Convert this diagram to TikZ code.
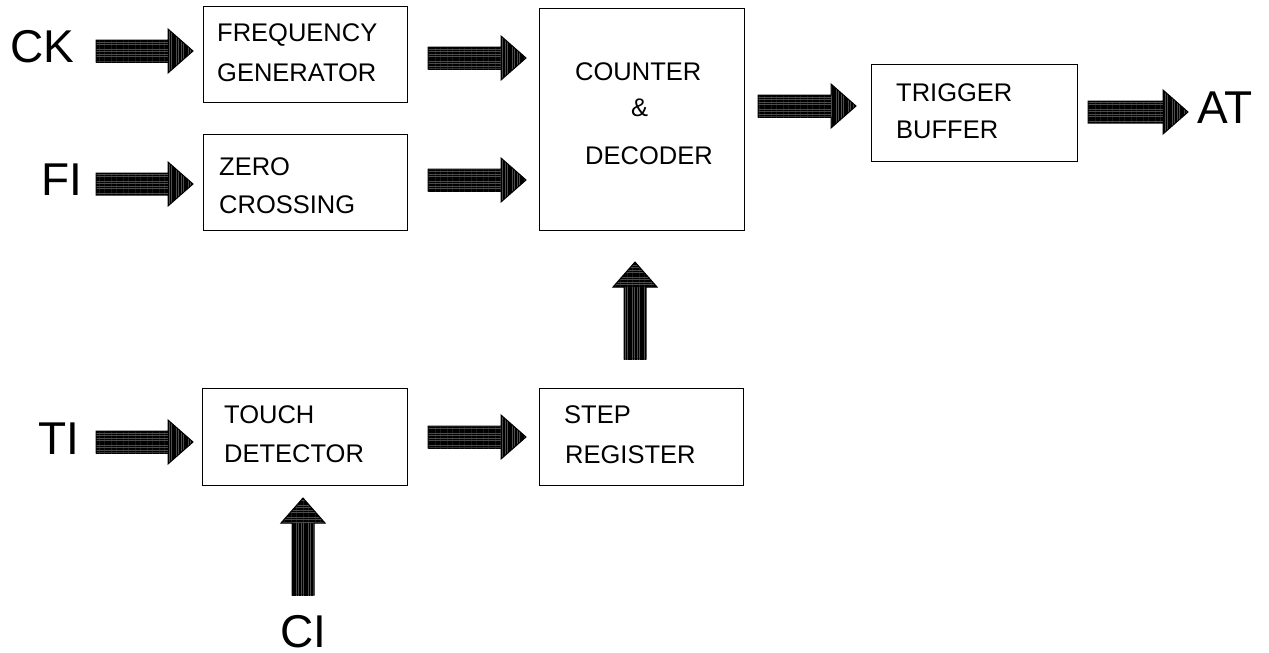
\documentclass[tikz,border=0pt]{standalone}
\usepackage{fontspec}
\setmainfont{Liberation Sans}
\usetikzlibrary{calc,patterns.meta}
\tikzset{
  blk/.style={draw=black,line width=1.4pt,inner sep=0pt,anchor=north west},
  txt/.style={anchor=base west,inner sep=0pt,font=\fontsize{25.5}{30}\selectfont},
  lbl/.style={anchor=base west,inner sep=0pt,text depth=0pt,font=\fontsize{46}{50}\selectfont},
  hshaft/.style={preaction={fill=black!70},pattern={Lines[angle=0,distance=2.4pt,line width=1.6pt]},pattern color=black},
  vshaft/.style={preaction={fill=black!70},pattern={Lines[angle=90,distance=2.4pt,line width=1.6pt]},pattern color=black},
  aout/.style={draw=black,line width=1pt,line join=miter},
}
% horizontal block arrow from #1 to tip #2 (y taken from #1)
\newcommand\harrow[2]{%
  \path[hshaft] let \p1=(#1), \p2=(#2) in
    (\x1,\y1-11pt) rectangle (\x2-25pt,\y1+11pt);
  \path[vshaft] let \p1=(#1), \p2=(#2) in
    (\x2-25pt,\y1-22pt) -- (\x2,\y1) -- (\x2-25pt,\y1+22pt) -- cycle;
  \path[aout] let \p1=(#1), \p2=(#2) in
    (\x1,\y1-11pt) -- (\x2-25pt,\y1-11pt) -- (\x2-25pt,\y1-22pt) -- (\x2,\y1)
    -- (\x2-25pt,\y1+22pt) -- (\x2-25pt,\y1+11pt) -- (\x1,\y1+11pt) -- cycle;
}
% vertical (upward) block arrow from #1 to tip #2 (x taken from #1)
\newcommand\varrow[2]{%
  \path[vshaft] let \p1=(#1), \p2=(#2) in
    (\x1-11pt,\y1) rectangle (\x1+11pt,\y2-25pt);
  \path[hshaft] let \p1=(#1), \p2=(#2) in
    (\x1-22pt,\y2-25pt) -- (\x1,\y2) -- (\x1+22pt,\y2-25pt) -- cycle;
  \path[aout] let \p1=(#1), \p2=(#2) in
    (\x1-11pt,\y1) -- (\x1-11pt,\y2-25pt) -- (\x1-22pt,\y2-25pt) -- (\x1,\y2)
    -- (\x1+22pt,\y2-25pt) -- (\x1+11pt,\y2-25pt) -- (\x1+11pt,\y1) -- cycle;
}
\begin{document}
\begin{tikzpicture}[x=1pt,y=-1pt]
\useasboundingbox[fill=white] (0,0) rectangle (1269,653);

% boxes
\node[blk,minimum width=204pt,minimum height=96pt] (fg) at (203,6) {};
\node[blk,minimum width=204pt,minimum height=96pt] (zc) at (203,134) {};
\node[blk,minimum width=205pt,minimum height=222pt] (cd) at (539,8) {};
\node[blk,minimum width=206pt,minimum height=97pt] (tb) at (871,64) {};
\node[blk,minimum width=205pt,minimum height=97pt] (td) at (202,388) {};
\node[blk,minimum width=204pt,minimum height=97pt] (sr) at (539,388) {};

% box texts
\node[txt] (fg1) at (217,41) {FREQUENCY};
\node[txt] (fg2) at (217,81) {GENERATOR};
\node[txt] (zc1) at (219,175) {ZERO};
\node[txt] (zc2) at (219,213) {CROSSING};
\node[txt] (cd1) at (575,80) {COUNTER};
\node[txt] (cd2) at (631,116) {\&};
\node[txt] (cd3) at (585,164) {DECODER};
\node[txt] (tb1) at (896,101) {TRIGGER};
\node[txt] (tb2) at (896,138) {BUFFER};
\node[txt] (td1) at (224,423) {TOUCH};
\node[txt] (td2) at (224,462) {DETECTOR};
\node[txt] (sr1) at (564,423) {STEP};
\node[txt] (sr2) at (565,463) {REGISTER};

% outer labels
\node[lbl] (ck) at (10,62) {CK};
\node[lbl] (fi) at (41,195) {FI};
\node[lbl] (ti) at (38,454) {TI};
\node[lbl] (ci) at (280,647) {CI};
\node[lbl] (at) at (1197,123) {AT};

% arrow end points
\coordinate (a1s) at (96,51);   \coordinate (a1e) at (193,51);
\coordinate (a2s) at (96,184);  \coordinate (a2e) at (193,184);
\coordinate (a3s) at (428,58);  \coordinate (a3e) at (526,58);
\coordinate (a4s) at (428,180); \coordinate (a4e) at (526,180);
\coordinate (a5s) at (758,106); \coordinate (a5e) at (856,106);
\coordinate (a6s) at (1088,112); \coordinate (a6e) at (1188,112);
\coordinate (a7s) at (96,442);  \coordinate (a7e) at (193,442);
\coordinate (a8s) at (428,437); \coordinate (a8e) at (526,437);
\coordinate (a9s) at (303,595); \coordinate (a9e) at (303,498);
\coordinate (a10s) at (635,359); \coordinate (a10e) at (635,262);

\harrow{a1s}{a1e}
\harrow{a2s}{a2e}
\harrow{a3s}{a3e}
\harrow{a4s}{a4e}
\harrow{a5s}{a5e}
\harrow{a6s}{a6e}
\harrow{a7s}{a7e}
\harrow{a8s}{a8e}
\varrow{a9s}{a9e}
\varrow{a10s}{a10e}
\end{tikzpicture}
\end{document}
